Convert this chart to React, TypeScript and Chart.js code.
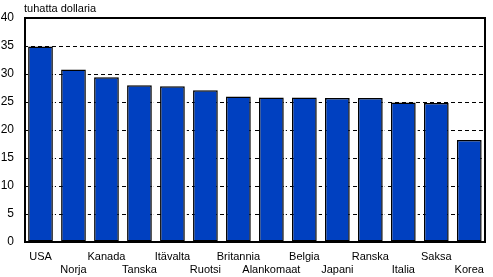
import React, { useEffect, useRef } from "react";
import { Chart, registerables } from "chart.js";

Chart.register(...registerables);

const countries = [
  "USA", "Norja", "Kanada", "Tanska", "Itävalta", "Ruotsi", "Britannia",
  "Alankomaat", "Belgia", "Japani", "Ranska", "Italia", "Saksa", "Korea",
];
const values = [34.9, 30.8, 29.4, 28.0, 27.8, 27.1, 26.0, 25.8, 25.8, 25.7, 25.7, 24.9, 24.8, 18.2];
const yTicks = [0, 5, 10, 15, 20, 25, 30, 35, 40];
const unitLabel = "tuhatta dollaria";

const FONT = "'Liberation Sans', Arial, sans-serif";

export default function App() {
  const ref = useRef<HTMLCanvasElement>(null);
  useEffect(() => {
    document.body.style.margin = "0";
    const labels = countries.map((c, i) => (i % 2 === 0 ? [c, ""] : ["", c]));
    const framePlugin = {
      id: "frame",
      afterDraw(chart: any) {
        const { ctx, chartArea } = chart;
        ctx.save();
        ctx.strokeStyle = "#000";
        ctx.lineWidth = 2;
        ctx.setLineDash([]);
        const l = Math.round(chartArea.left);
        const t = Math.round(chartArea.top);
        const r = Math.round(chartArea.right);
        const b = Math.round(chartArea.bottom);
        ctx.strokeRect(l + 1, t, r - l - 2, b - t);
        ctx.fillStyle = "#000";
        ctx.font = "11px " + FONT;
        ctx.textBaseline = "middle";
        ctx.textAlign = "left";
        ctx.fillText(unitLabel, 24, 9);
        ctx.restore();
      },
    };
    const shadowPlugin = {
      id: "shadow",
      beforeDatasetsDraw(chart: any) {
        const { ctx } = chart;
        const meta = chart.getDatasetMeta(0);
        ctx.save();
        ctx.fillStyle = "#fff";
        meta.data.forEach((bar: any) => {
          const p = bar.getProps(["x", "y", "base", "width"], true);
          const right = p.x + p.width / 2;
          ctx.fillRect(right, p.y + 2, 2, p.base - p.y - 2);
        });
        ctx.restore();
      },
    };
    const chart = new Chart(ref.current!, {
      type: "bar",
      data: {
        labels,
        datasets: [
          {
            data: values,
            backgroundColor: "#0040C0",
            borderColor: "#000",
            borderWidth: 1.5,
            borderSkipped: false,
            barPercentage: 0.75,
            categoryPercentage: 1,
          },
        ],
      },
      options: {
        animation: false,
        responsive: false,
        maintainAspectRatio: false,
        layout: { padding: { top: 18, right: 1, left: 0, bottom: 0 } },
        plugins: { legend: { display: false }, tooltip: { enabled: false }, title: { display: false } },
        scales: {
          x: {
            grid: { display: false, drawTicks: false },
            border: { display: false },
            ticks: {
              autoSkip: false,
              maxRotation: 0,
              minRotation: 0,
              color: "#000",
              font: { family: FONT, size: 11, lineHeight: 1.12 },
              padding: 9,
            },
            afterFit(scale: any) {
              scale.height = 35;
            },
          },
          y: {
            min: 0,
            max: 40,
            afterBuildTicks(scale: any) {
              scale.ticks = yTicks.map((v) => ({ value: v }));
            },
            grid: {
              color: (c: any) => (c.tick && (c.tick.value === 0 || c.tick.value === 40) ? "rgba(0,0,0,0)" : "#000"),
              lineWidth: 1,
              drawTicks: false,
            },
            border: { display: false, dash: [4, 3] },
            ticks: {
              color: "#000",
              font: { family: FONT, size: 12 },
              padding: 10,
            },
            afterFit(scale: any) {
              scale.width = 24;
            },
          },
        },
      },
      plugins: [framePlugin, shadowPlugin],
    } as any);
    return () => chart.destroy();
  }, []);
  return (
    <div style={{ width: 493, height: 277 }}>
      <canvas ref={ref} width={493} height={277} style={{ display: "block" }} />
    </div>
  );
}
